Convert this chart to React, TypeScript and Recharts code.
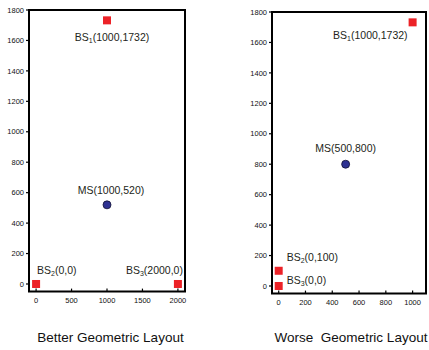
import { ScatterChart, Scatter, XAxis, YAxis, ReferenceArea } from "recharts";

const leftBS = [
  { name: "BS1", x: 1000, y: 1732 },
  { name: "BS2", x: 0, y: 0 },
  { name: "BS3", x: 2000, y: 0 },
];
const leftMS = [{ name: "MS", x: 1000, y: 520 }];

const rightBS = [
  { name: "BS1", x: 1000, y: 1732 },
  { name: "BS2", x: 0, y: 100 },
  { name: "BS3", x: 0, y: 0 },
];
const rightMS = [{ name: "MS", x: 500, y: 800 }];

const yDomain: [number, number] = [-50, 1800];
const yTicks = [0, 200, 400, 600, 800, 1000, 1200, 1400, 1600, 1800];
const leftXDomain: [number, number] = [-100, 2100];
const leftXTicks = [0, 500, 1000, 1500, 2000];
const rightXDomain: [number, number] = [-50, 1100];
const rightXTicks = [0, 200, 400, 600, 800, 1000];

const leftTitle = "Better Geometric Layout";
const rightTitle = "Worse  Geometric Layout";

const FONT = "'Liberation Sans', Arial, sans-serif";
const INK = "#231f20";
const RED = "#ec2227";
const BLUE = "#2e3192";

type Place = { dx: number; dy: number; anchor: "start" | "middle" | "end" };

const leftPlace: Record<string, Place> = {
  BS1: { dx: 5, dy: 21, anchor: "middle" },
  BS2: { dx: 1, dy: -10, anchor: "start" },
  BS3: { dx: 5, dy: -10, anchor: "end" },
  MS: { dx: 4, dy: -11, anchor: "middle" },
};

const rightPlace: Record<string, Place> = {
  BS1: { dx: -5, dy: 17, anchor: "end" },
  BS2: { dx: 8, dy: -10, anchor: "start" },
  BS3: { dx: 8, dy: -2, anchor: "start" },
  MS: { dx: 0, dy: -12, anchor: "middle" },
};

const makeShape = (kind: "square" | "circle", place: Record<string, Place>) => (props: any) => {
  const { cx, cy, payload } = props;
  const p = place[payload.name];
  const base = payload.name.replace(/\d+$/, "");
  const sub = payload.name.slice(base.length);
  return (
    <g>
      {kind === "square" ? (
        <rect x={cx - 4} y={cy - 4} width={8} height={8} fill={RED} />
      ) : (
        <circle cx={cx} cy={cy} r={4} fill={BLUE} stroke="#111133" strokeWidth={0.8} />
      )}
      <text
        x={cx + p.dx}
        y={cy + p.dy}
        textAnchor={p.anchor}
        fontSize={10.5}
        fontFamily={FONT}
        fill={INK}
      >
        {base}
        {sub && (
          <tspan fontSize={7} dy={2}>
            {sub}
          </tspan>
        )}
        <tspan dy={sub ? -2 : 0}>{`(${payload.x},${payload.y})`}</tspan>
      </text>
    </g>
  );
};

const tickStyle = { fontSize: 7.5, fill: "#111", fontFamily: FONT };
const tickLine = { stroke: "#000", strokeWidth: 1.2 };

function Panel({
  width,
  margin,
  yWidth,
  xDomain,
  xTicks,
  bs,
  ms,
  place,
}: {
  width: number;
  margin: { top: number; right: number; bottom: number; left: number };
  yWidth: number;
  xDomain: [number, number];
  xTicks: number[];
  bs: typeof leftBS;
  ms: typeof leftMS;
  place: Record<string, Place>;
}) {
  return (
    <ScatterChart width={width} height={350} margin={margin}>
      <XAxis
        xAxisId="b"
        type="number"
        dataKey="x"
        domain={xDomain}
        ticks={xTicks}
        allowDataOverflow
        height={14}
        axisLine={false}
        tickLine={tickLine}
        tickSize={-3}
        tickMargin={9}
        tick={tickStyle}
      />
      <XAxis
        xAxisId="t"
        orientation="top"
        type="number"
        dataKey="x"
        domain={xDomain}
        ticks={xTicks}
        allowDataOverflow
        height={0}
        axisLine={false}
        tickLine={tickLine}
        tickSize={-3}
        tick={false}
      />
      <YAxis
        yAxisId="l"
        type="number"
        dataKey="y"
        domain={yDomain}
        ticks={yTicks}
        allowDataOverflow
        width={yWidth}
        axisLine={false}
        tickLine={tickLine}
        tickSize={3}
        tickMargin={2}
        tick={tickStyle}
      />
      <YAxis
        yAxisId="r"
        orientation="right"
        type="number"
        dataKey="y"
        domain={yDomain}
        ticks={yTicks}
        allowDataOverflow
        width={0}
        axisLine={false}
        tickLine={tickLine}
        tickSize={-3}
        tick={false}
      />
      <ReferenceArea
        xAxisId="b"
        yAxisId="l"
        x1={xDomain[0]}
        x2={xDomain[1]}
        y1={yDomain[0]}
        y2={yDomain[1]}
        fill="none"
        fillOpacity={0}
        stroke="#000"
        strokeWidth={2}
        strokeOpacity={1}
        ifOverflow="visible"
      />
      <Scatter
        xAxisId="b"
        yAxisId="l"
        data={bs}
        shape={makeShape("square", place)}
        isAnimationActive={false}
      />
      <Scatter
        xAxisId="b"
        yAxisId="l"
        data={ms}
        shape={makeShape("circle", place)}
        isAnimationActive={false}
      />
    </ScatterChart>
  );
}

const titleStyle = {
  position: "absolute" as const,
  top: 330,
  fontSize: 13.5,
  lineHeight: "16px",
  fontFamily: FONT,
  color: "#111",
  whiteSpace: "pre" as const,
  textAlign: "center" as const,
};

export default function App() {
  return (
    <div style={{ position: "absolute", left: 0, top: 0, width: 429, height: 350, background: "#fff" }}>
      <div style={{ position: "absolute", left: 0, top: 0 }}>
        <Panel
          width={215}
          margin={{ top: 10, right: 30, bottom: 44.4, left: 0 }}
          yWidth={29}
          xDomain={leftXDomain}
          xTicks={leftXTicks}
          bs={leftBS}
          ms={leftMS}
          place={leftPlace}
        />
      </div>
      <div style={{ position: "absolute", left: 215, top: 0 }}>
        <Panel
          width={214}
          margin={{ top: 12, right: 3, bottom: 42.4, left: 0 }}
          yWidth={57}
          xDomain={rightXDomain}
          xTicks={rightXTicks}
          bs={rightBS}
          ms={rightMS}
          place={rightPlace}
        />
      </div>
      <div style={{ ...titleStyle, left: 0, width: 221 }}>{leftTitle}</div>
      <div style={{ ...titleStyle, left: 251, width: 200 }}>{rightTitle}</div>
    </div>
  );
}
